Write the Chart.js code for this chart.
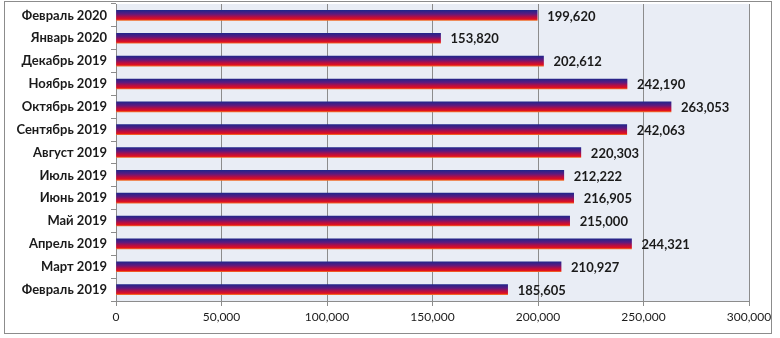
<!DOCTYPE html>
<html lang="ru">
<head>
    <meta charset="UTF-8">
    <title>Chart</title>
    <script src="https://cdn.jsdelivr.net/npm/chart.js@4.4.1/dist/chart.umd.min.js"></script>
    <style>
        html, body { margin: 0; padding: 0; background: #fff; }
        #wrap { width: 780px; height: 338px; }
    </style>
</head>
<body>
<div id="wrap"><canvas id="chart" width="780" height="338"></canvas></div>
<script>
    // chronological order, axis is reversed so the newest month is on top
    const months = ['Февраль 2019', 'Март 2019', 'Апрель 2019', 'Май 2019', 'Июнь 2019', 'Июль 2019',
        'Август 2019', 'Сентябрь 2019', 'Октябрь 2019', 'Ноябрь 2019', 'Декабрь 2019', 'Январь 2020', 'Февраль 2020'];
    const values = [185605, 210927, 244321, 215000, 216905, 212222, 220303, 242063, 263053, 242190, 202612, 153820, 199620];
    const xTicks = [0, 50000, 100000, 150000, 200000, 250000, 300000];

    const fmt = v => v.toLocaleString('en-US');
    const BAR_H = 10;

    function barGradient(context) {
        const chart = context.chart;
        const yScale = chart.scales.y;
        if (!yScale || context.dataIndex === undefined) return '#7a1a7a';
        const cy = yScale.getPixelForValue(context.dataIndex);
        if (!isFinite(cy)) return '#7a1a7a';
        const g = chart.ctx.createLinearGradient(0, cy - BAR_H / 2, 0, cy + BAR_H / 2);
        g.addColorStop(0, '#22268a');
        g.addColorStop(0.35, '#5c1a80');
        g.addColorStop(0.65, '#b40e44');
        g.addColorStop(0.88, '#e2101e');
        g.addColorStop(1, '#f06a28');
        return g;
    }

    const frame = {
        id: 'frame',
        beforeDraw(chart) {
            const { ctx, chartArea: a } = chart;
            ctx.save();
            ctx.fillStyle = '#ffffff';
            ctx.fillRect(0, 0, chart.width, chart.height);
            ctx.strokeStyle = '#8c8c8c';
            ctx.lineWidth = 1;
            ctx.strokeRect(4.5, 1.5, 767, 332);
            ctx.fillStyle = '#e9edf5';
            ctx.fillRect(a.left, a.top, a.right - a.left, a.bottom - a.top);
            ctx.restore();
        },
        afterDatasetsDraw(chart) {
            const { ctx } = chart;
            const meta = chart.getDatasetMeta(0);
            ctx.save();
            ctx.font = 'bold 13px Lato, "Open Sans", sans-serif';
            ctx.fillStyle = '#1a1a1a';
            ctx.textBaseline = 'middle';
            meta.data.forEach((bar, i) => {
                ctx.fillText(fmt(values[i]), bar.x + 10, bar.y + 1);
            });
            ctx.restore();
        }
    };

    new Chart(document.getElementById('chart').getContext('2d'), {
        type: 'bar',
        data: {
            labels: months,
            datasets: [{
                data: values,
                backgroundColor: barGradient,
                borderWidth: 0,
                barThickness: BAR_H
            }]
        },
        options: {
            indexAxis: 'y',
            responsive: false,
            animation: false,
            layout: { padding: { top: 4, right: 31, bottom: 0, left: 0 } },
            plugins: { legend: { display: false }, tooltip: { enabled: false } },
            scales: {
                x: {
                    min: 0,
                    max: 300000,
                    afterBuildTicks: s => { s.ticks = xTicks.map(v => ({ value: v })); },
                    afterFit: s => { s.height = 37; },
                    grid: { color: '#8c8c8c', tickLength: 5, tickColor: '#8c8c8c' },
                    border: { color: '#8c8c8c' },
                    ticks: {
                        color: '#1a1a1a',
                        font: { family: 'Lato, "Open Sans", sans-serif', size: 12 },
                        padding: 4,
                        maxRotation: 0,
                        callback: v => fmt(v)
                    }
                },
                y: {
                    reverse: true,
                    afterFit: s => { s.width = 116; s.paddingTop = 0; s.paddingBottom = 0; },
                    grid: { drawOnChartArea: false, offset: true, tickLength: 5, tickColor: '#8c8c8c' },
                    border: { color: '#8c8c8c' },
                    ticks: {
                        color: '#1a1a1a',
                        font: { family: 'Lato, "Open Sans", sans-serif', size: 13, weight: 'bold' },
                        padding: 4
                    }
                }
            }
        },
        plugins: [frame]
    });
</script>
</body>
</html>
